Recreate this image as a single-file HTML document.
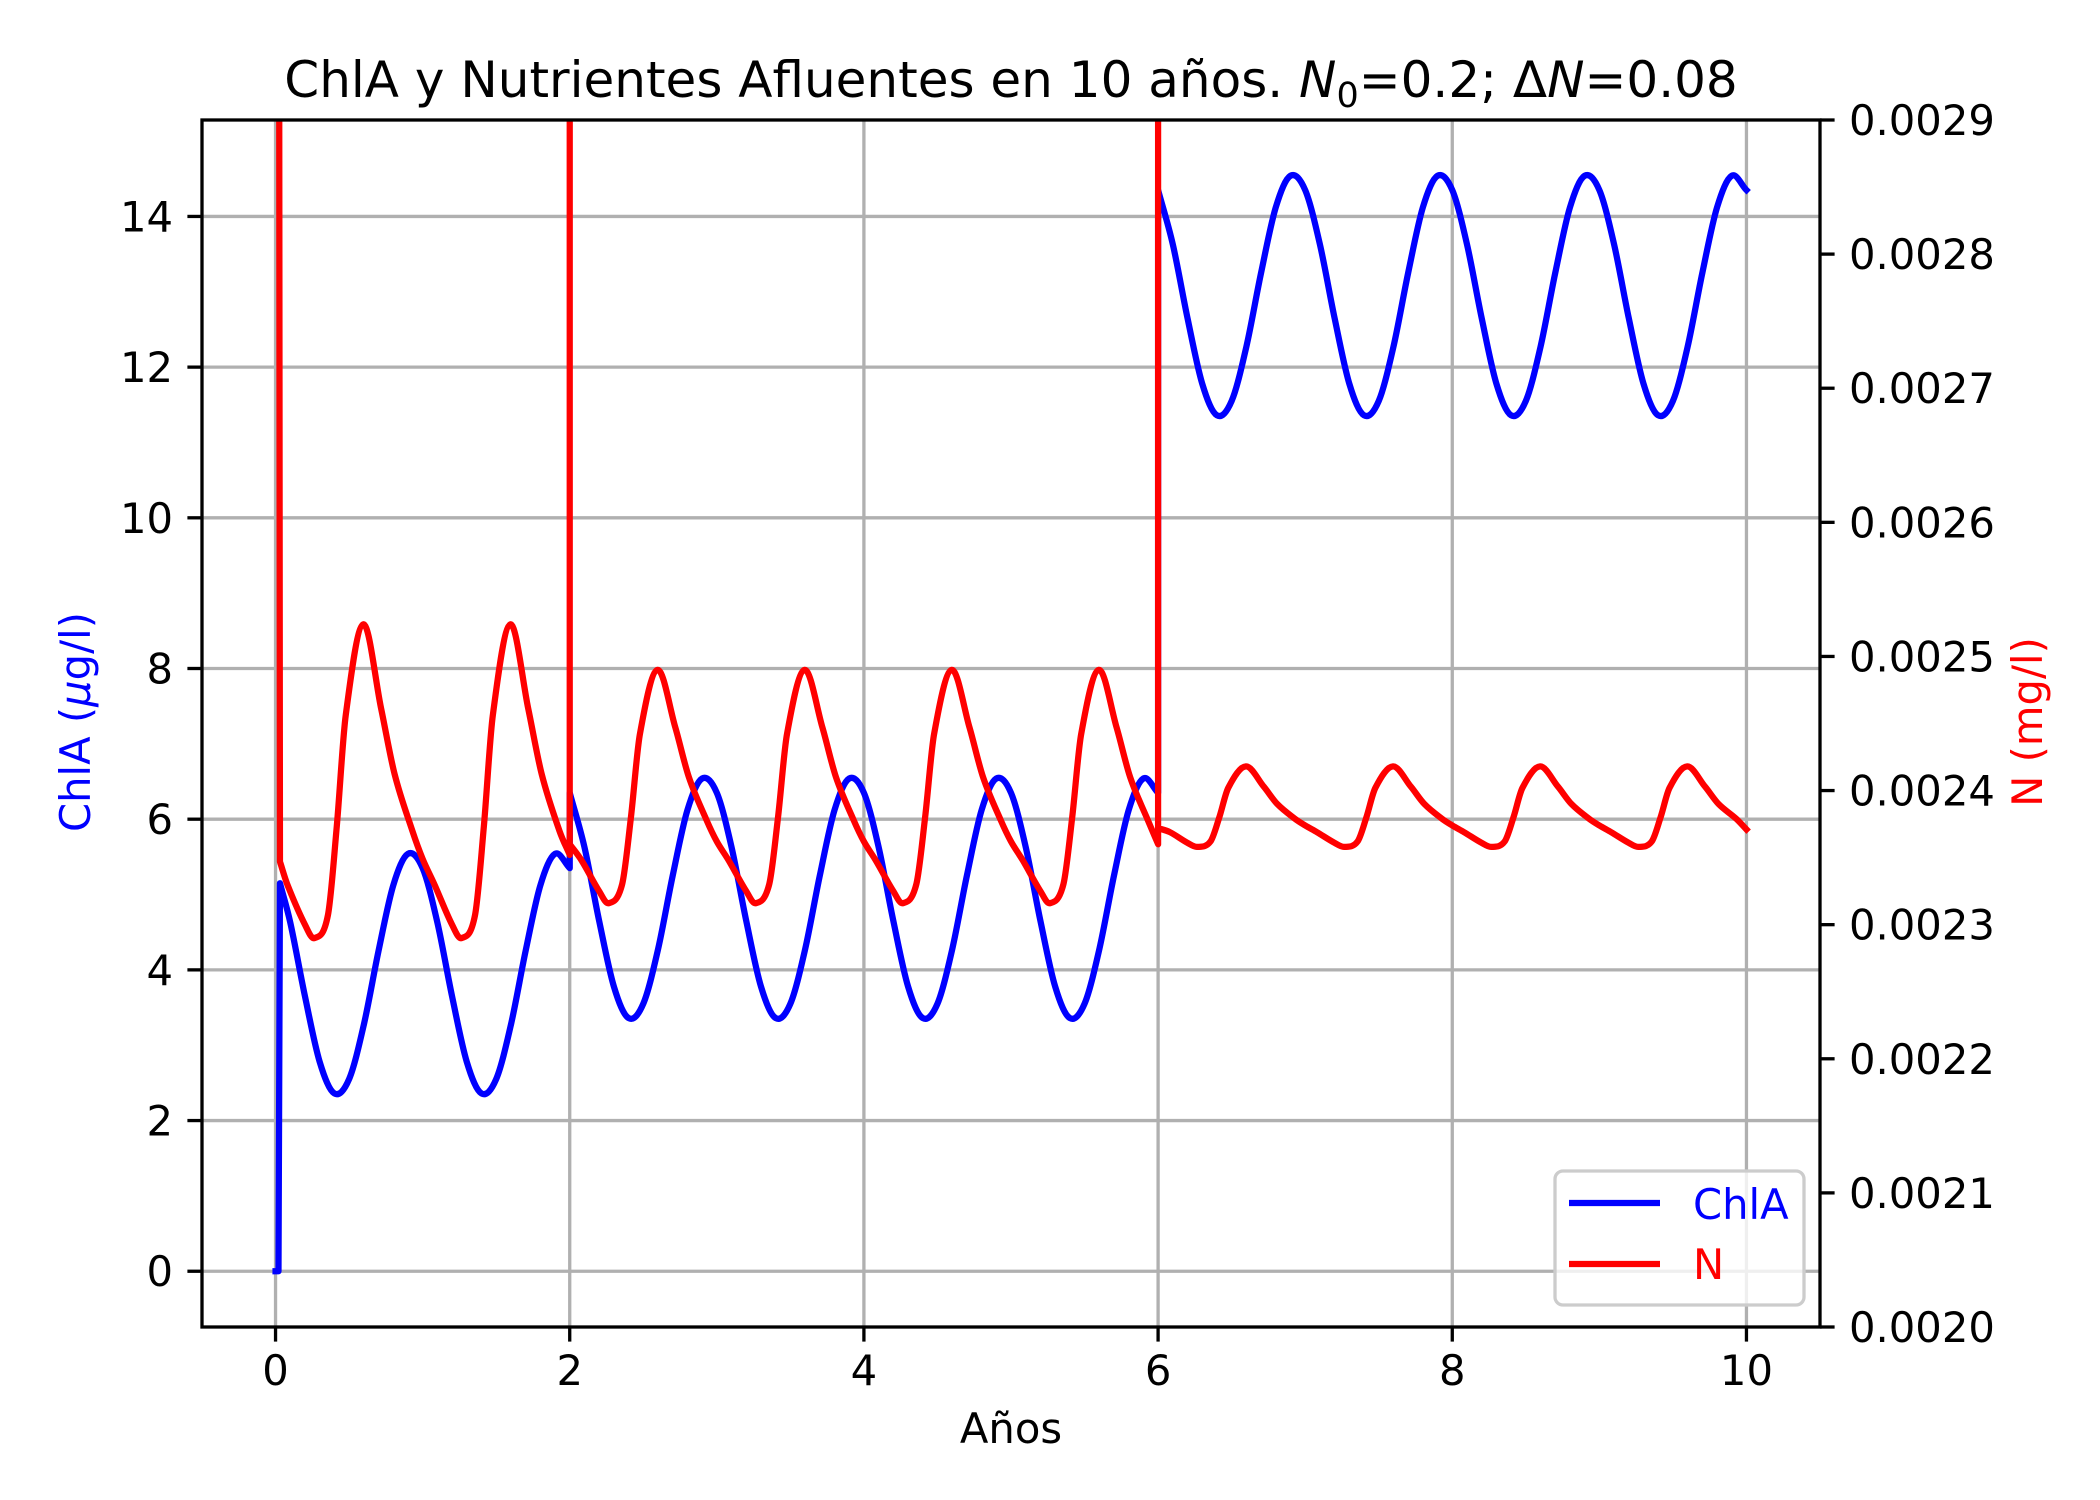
<!DOCTYPE html>
<html><head><meta charset="utf-8"><style>
html,body{margin:0;padding:0;background:#fff;}
svg{display:block;font-family:"DejaVu Sans","Liberation Sans",sans-serif;}
</style></head><body>
<svg id="chart" width="2100" height="1500" viewBox="0 0 2100 1500" xmlns="http://www.w3.org/2000/svg">
<rect width="2100" height="1500" fill="#fff"/>
<defs><clipPath id="clip"><rect x="202" y="120" width="1618" height="1207"/></clipPath></defs>
<g id="grid"></g>
<g id="series" clip-path="url(#clip)"></g>
<rect x="202" y="120" width="1618" height="1207" fill="none" stroke="#000" stroke-width="3.3"/>
<g id="ticks"></g>
<text x="1011" y="97" text-anchor="middle" font-size="50">ChlA y Nutrientes Afluentes en 10 años. <tspan font-style="italic">N</tspan><tspan font-size="35" dy="10">0</tspan><tspan dy="-10">=0.2; Δ</tspan><tspan font-style="italic">N</tspan><tspan>=0.08</tspan></text>
<text x="1011" y="1443" text-anchor="middle" font-size="41.7">Años</text>
<text transform="translate(90,722) rotate(-90)" text-anchor="middle" font-size="41.7" fill="#0000ff">ChlA (<tspan font-style="italic">μ</tspan>g/l)</text>
<text transform="translate(2042,722) rotate(-90)" text-anchor="middle" font-size="41.7" fill="#ff0000">N (mg/l)</text>
<g>
<rect x="1555" y="1171" width="249" height="134" rx="8" fill="#fff" fill-opacity="0.8" stroke="#cccccc" stroke-width="3.3"/>
<line x1="1569" y1="1203" x2="1660" y2="1203" stroke="#0000ff" stroke-width="6.25"/>
<text x="1693" y="1219" font-size="41.7" fill="#0000ff">ChlA</text>
<line x1="1569" y1="1264" x2="1660" y2="1264" stroke="#ff0000" stroke-width="6.25"/>
<text x="1693" y="1279" font-size="41.7" fill="#ff0000">N</text>
</g>
</svg>
<script>
const xTicks=[0,2,4,6,8,10];
const yLeftTicks=[0,2,4,6,8,10,12,14];
const yRightTicks=[0.0020,0.0021,0.0022,0.0023,0.0024,0.0025,0.0026,0.0027,0.0028,0.0029];
const yRightTickLabels=["0.0020","0.0021","0.0022","0.0023","0.0024","0.0025","0.0026","0.0027","0.0028","0.0029"];

const chlaYears=[0,0.02,0.03,0.1,0.2,0.3,0.4,0.5,0.6,0.7,0.8,0.9,1.0,1.1,1.2,1.3,1.4,1.5,1.6,1.7,1.8,1.9,2.0,
2.0,2.1,2.2,2.3,2.4,2.5,2.6,2.7,2.8,2.9,3.0,3.1,3.2,3.3,3.4,3.5,3.6,3.7,3.8,3.9,4.0,4.1,4.2,4.3,4.4,4.5,4.6,4.7,4.8,4.9,5.0,5.1,5.2,5.3,5.4,5.5,5.6,5.7,5.8,5.9,6.0,
6.0,6.1,6.2,6.3,6.4,6.5,6.6,6.7,6.8,6.9,7.0,7.1,7.2,7.3,7.4,7.5,7.6,7.7,7.8,7.9,8.0,8.1,8.2,8.3,8.4,8.5,8.6,8.7,8.8,8.9,9.0,9.1,9.2,9.3,9.4,9.5,9.6,9.7,9.8,9.9,10.0];
const chlaValues=[0,0,5.15,4.63,3.65,2.78,2.36,2.55,3.27,4.25,5.12,5.54,5.35,4.63,3.65,2.78,2.36,2.55,3.27,4.25,5.12,5.54,5.35,
6.35,5.63,4.65,3.78,3.36,3.55,4.27,5.25,6.12,6.54,6.35,5.63,4.65,3.78,3.36,3.55,4.27,5.25,6.12,6.54,6.35,5.63,4.65,3.78,3.36,3.55,4.27,5.25,6.12,6.54,6.35,5.63,4.65,3.78,3.36,3.55,4.27,5.25,6.12,6.54,6.35,
14.35,13.63,12.65,11.78,11.36,11.55,12.27,13.25,14.12,14.54,14.35,13.63,12.65,11.78,11.36,11.55,12.27,13.25,14.12,14.54,14.35,13.63,12.65,11.78,11.36,11.55,12.27,13.25,14.12,14.54,14.35,13.63,12.65,11.78,11.36,11.55,12.27,13.25,14.12,14.54,14.35];

const nYears=[0.02,0.03,0.08,0.2,0.265,0.356,0.416,0.477,0.597,0.718,0.81,0.93,1.0,1.08,1.2,1.265,1.356,1.416,1.477,1.597,1.718,1.81,1.93,2.0,
2.0,2.0,2.08,2.2,2.265,2.356,2.416,2.477,2.597,2.718,2.81,2.93,3.0,3.08,3.2,3.265,3.356,3.416,3.477,3.597,3.718,3.81,3.93,4.0,4.08,4.2,4.265,4.356,4.416,4.477,4.597,4.718,4.81,4.93,5.0,5.08,5.2,5.265,5.356,5.416,5.477,5.597,5.718,5.81,5.93,6.0,
6.0,6.0,6.08,6.2,6.265,6.356,6.416,6.477,6.597,6.718,6.81,6.93,7.0,7.08,7.2,7.265,7.356,7.416,7.477,7.597,7.718,7.81,7.93,8.0,8.08,8.2,8.265,8.356,8.416,8.477,8.597,8.718,8.81,8.93,9.0,9.08,9.2,9.265,9.356,9.416,9.477,9.597,9.718,9.81,9.93,10.0];
const nValues=[0.0035,0.002347,0.002330,0.002300,0.002290,0.002307,0.002373,0.002456,0.002524,0.002461,0.002412,0.002370,0.002349,0.002330,0.002300,0.002290,0.002307,0.002373,0.002456,0.002524,0.002461,0.002412,0.002370,0.002352,
0.0035,0.002360,0.002348,0.002325,0.002316,0.002330,0.002380,0.002442,0.002490,0.002447,0.002410,0.002378,0.002362,0.002348,0.002325,0.002316,0.002330,0.002380,0.002442,0.002490,0.002447,0.002410,0.002378,0.002362,0.002348,0.002325,0.002316,0.002330,0.002380,0.002442,0.002490,0.002447,0.002410,0.002378,0.002362,0.002348,0.002325,0.002316,0.002330,0.002380,0.002442,0.002490,0.002447,0.002410,0.002378,0.002360,
0.0035,0.002372,0.002369,0.002361,0.002358,0.002362,0.002380,0.002402,0.002418,0.002403,0.002390,0.002379,0.002374,0.002369,0.002361,0.002358,0.002362,0.002380,0.002402,0.002418,0.002403,0.002390,0.002379,0.002374,0.002369,0.002361,0.002358,0.002362,0.002380,0.002402,0.002418,0.002403,0.002390,0.002379,0.002374,0.002369,0.002361,0.002358,0.002362,0.002380,0.002402,0.002418,0.002403,0.002390,0.002379,0.002371];

const NS='http://www.w3.org/2000/svg';
const L=202,R=1820,T=120,B=1327;
const X0=-0.5,X1=10.5,YL0=-0.74,YL1=15.28,YR0=0.0020,YR1=0.0029;
function sx(v){return L+(v-X0)/(X1-X0)*(R-L);}
function syL(v){return B-(v-YL0)/(YL1-YL0)*(B-T);}
function syR(v){return B-(v-YR0)/(YR1-YR0)*(B-T);}
function mk(tag,attrs,parent){const e=document.createElementNS(NS,tag);for(const k in attrs)e.setAttribute(k,attrs[k]);parent.appendChild(e);return e;}
const grid=document.getElementById('grid'),ticks=document.getElementById('ticks'),series=document.getElementById('series');

xTicks.forEach(v=>{
  const g=mk('line',{x1:sx(v),x2:sx(v),y1:T,y2:B,stroke:'#b0b0b0','stroke-width':3.3},grid);
  
  
  const t=mk('line',{x1:sx(v),x2:sx(v),y1:B,y2:B+14.6,stroke:'#000','stroke-width':3.3},ticks);
  
  
  const lb=mk('text',{x:sx(v),y:B+58,'text-anchor':'middle','font-size':41.7},ticks);
  lb.textContent=String(v);
  
  
});
yLeftTicks.forEach(v=>{
  const g=mk('line',{x1:L,x2:R,y1:syL(v),y2:syL(v),stroke:'#b0b0b0','stroke-width':3.3},grid);
  
  
  const t=mk('line',{x1:L-14.6,x2:L,y1:syL(v),y2:syL(v),stroke:'#000','stroke-width':3.3},ticks);
  
  
  const lb=mk('text',{x:L-29,y:syL(v)+15,'text-anchor':'end','font-size':41.7},ticks);
  lb.textContent=String(v);
  
  
});
yRightTicks.forEach((v,i)=>{
  const t=mk('line',{x1:R,x2:R+14.6,y1:syR(v),y2:syR(v),stroke:'#000','stroke-width':3.3},ticks);
  
  
  const lb=mk('text',{x:R+29,y:syR(v)+15,'font-size':41.7},ticks);
  lb.textContent=yRightTickLabels[i];
  
  
});

function smoothPath(xs,ys){
  let d='';let run=[[xs[0],ys[0]]];const runs=[];
  for(let i=1;i<xs.length;i++){
    if(xs[i]-xs[i-1]<2){runs.push(run);run=[[xs[i],ys[i]]];}
    else run.push([xs[i],ys[i]]);
  }
  runs.push(run);
  runs.forEach((r,ri)=>{
    d+=(ri===0?'M':'L')+r[0][0].toFixed(2)+' '+r[0][1].toFixed(2);
    const n=r.length;if(n<2)return;
    const dx=[],m=[];for(let i=0;i<n-1;i++){dx.push(r[i+1][0]-r[i][0]);m.push((r[i+1][1]-r[i][1])/dx[i]);}
    const tg=[];tg[0]=m[0];tg[n-1]=m[n-2];
    for(let i=1;i<n-1;i++){tg[i]=(r[i+1][1]-r[i-1][1])/(r[i+1][0]-r[i-1][0]);}
    for(let i=0;i<n-1;i++){
      const h=dx[i]/3;
      d+='C'+(r[i][0]+h).toFixed(2)+' '+(r[i][1]+tg[i]*h).toFixed(2)+' '+(r[i+1][0]-h).toFixed(2)+' '+(r[i+1][1]-tg[i+1]*h).toFixed(2)+' '+r[i+1][0].toFixed(2)+' '+r[i+1][1].toFixed(2);
    }
  });
  return d;
}
const chlaPath=mk('path',{d:smoothPath(chlaYears.map(sx),chlaValues.map(syL)),fill:'none',stroke:'#0000ff','stroke-width':6.25,'stroke-linejoin':'round','stroke-linecap':'square'},series);


const nPath=mk('path',{d:smoothPath(nYears.map(sx),nValues.map(syR)),fill:'none',stroke:'#ff0000','stroke-width':6.25,'stroke-linejoin':'round','stroke-linecap':'square'},series);


</script>
</body></html>
